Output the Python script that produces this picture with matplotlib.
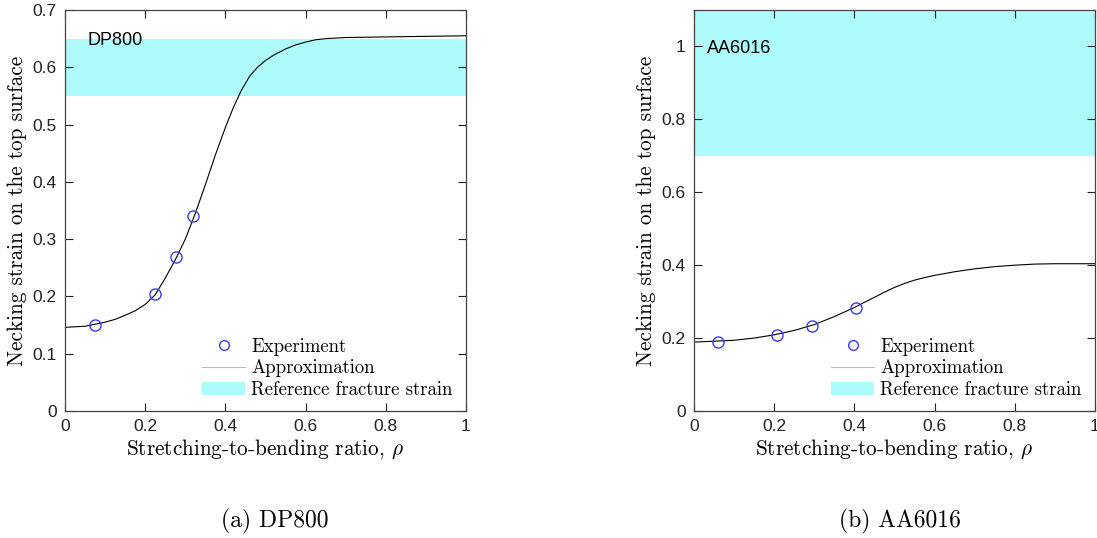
import numpy as np
import matplotlib
matplotlib.use("Agg")
import matplotlib.pyplot as plt
from matplotlib.patches import Patch
from matplotlib.lines import Line2D

plt.rcParams['mathtext.fontset'] = 'cm'
plt.rcParams['axes.formatter.use_mathtext'] = False

# DP800 experiments and fitted curve
dp_rho = [0.075, 0.225, 0.278, 0.32]
dp_eps = [0.150, 0.205, 0.268, 0.340]
dp_fit_rho = [0.0, 0.05, 0.1, 0.125, 0.15, 0.175, 0.2, 0.225, 0.25, 0.275, 0.3, 0.325, 0.35,
              0.375, 0.4, 0.42, 0.44, 0.46, 0.48, 0.5, 0.52, 0.55, 0.575, 0.6, 0.625, 0.65,
              0.7, 0.8, 0.9, 1.0]
dp_fit_eps = [0.146, 0.148, 0.155, 0.160, 0.167, 0.175, 0.186, 0.203, 0.232, 0.264, 0.300, 0.345,
              0.395, 0.447, 0.495, 0.530, 0.560, 0.584, 0.600, 0.612, 0.621, 0.632, 0.639,
              0.644, 0.648, 0.650, 0.652, 0.653, 0.654, 0.655]
dp_band = (0.55, 0.65)

# AA6016 experiments and fitted curve
aa_rho = [0.06, 0.207, 0.295, 0.403]
aa_eps = [0.190, 0.209, 0.234, 0.283]
aa_fit_rho = [0.0, 0.1, 0.15, 0.2, 0.25, 0.3, 0.35, 0.4, 0.425, 0.45, 0.475, 0.5, 0.525, 0.55,
              0.575, 0.6, 0.65, 0.7, 0.75, 0.8, 0.85, 0.9, 1.0]
aa_fit_eps = [0.189, 0.194, 0.200, 0.209, 0.221, 0.237, 0.259, 0.284, 0.298, 0.312, 0.326, 0.339,
              0.350, 0.359, 0.366, 0.372, 0.382, 0.390, 0.396, 0.400, 0.403, 0.404, 0.404]
aa_band = (0.70, 1.10)

cyan = '#adfbfb'
serif = 'cmr10'
sans = 'Liberation Sans'

fig = plt.figure(figsize=(10.97, 5.38), dpi=100)
ax1 = fig.add_axes([65/1097, 127/538, 401/1097, 401/538])
ax2 = fig.add_axes([694/1097, 127/538, 401/1097, 401/538])


def panel(ax, rho, eps, frho, feps, band, ymax, yticks, name, name_xy, caption, cap_x):
    ax.axhspan(band[0], band[1], color=cyan, lw=0, zorder=0)
    ax.plot(frho, feps, color='k', lw=0.8, zorder=2)
    ax.plot(rho, eps, 'o', mfc='none', mec='#3a3aff', ms=8, mew=1.0, zorder=3)
    ax.set_xlim(0, 1)
    ax.set_ylim(0, ymax)
    ax.set_xticks(np.arange(0, 1.01, 0.2))
    ax.set_xticklabels(['0', '0.2', '0.4', '0.6', '0.8', '1'])
    ax.set_yticks(yticks)
    ax.set_yticklabels(['%g' % t for t in yticks])
    ax.tick_params(direction='in', length=6, width=0.8, top=True, right=True,
                   labelsize=12.5, colors='#222222', pad=6)
    for lab in ax.get_xticklabels() + ax.get_yticklabels():
        lab.set_fontfamily(sans)
    for s in ax.spines.values():
        s.set_color('#444444')
        s.set_linewidth(0.9)
    ax.set_xlabel(r'Stretching-to-bending ratio, $\rho$', fontfamily=serif, fontsize=15.3, labelpad=2)
    ax.set_ylabel('Necking strain on the top surface', fontfamily=serif, fontsize=15.3, labelpad=4)
    ax.text(name_xy[0], name_xy[1], name, transform=ax.transAxes, fontfamily=sans,
            fontsize=13, va='center', ha='left')
    handles = [Line2D([], [], ls='none', marker='o', mfc='none', mec='#3a3aff', ms=7),
               Line2D([], [], color='#bbbbbb', lw=0.8),
               Patch(facecolor=cyan, edgecolor='none')]
    ax.legend(handles, ['Experiment', 'Approximation', 'Reference fracture strain'],
              loc='lower right', bbox_to_anchor=(0.985, 0.012), frameon=False,
              prop={'family': serif, 'size': 13.5}, handlelength=2.3, handletextpad=0.3,
              labelspacing=0.18, borderaxespad=0)
    fig.text(cap_x, 17/538, caption, fontfamily=serif, fontsize=17, ha='center', va='center')


panel(ax1, dp_rho, dp_eps, dp_fit_rho, dp_fit_eps, dp_band, 0.7,
      [0, 0.1, 0.2, 0.3, 0.4, 0.5, 0.6, 0.7], 'DP800', (0.055, 0.923), '(a) DP800', 275/1097)
panel(ax2, aa_rho, aa_eps, aa_fit_rho, aa_fit_eps, aa_band, 1.1,
      [0, 0.2, 0.4, 0.6, 0.8, 1.0], 'AA6016', (0.033, 0.903), '(b) AA6016', 900/1097)

fig.savefig('out.png', dpi=100)
